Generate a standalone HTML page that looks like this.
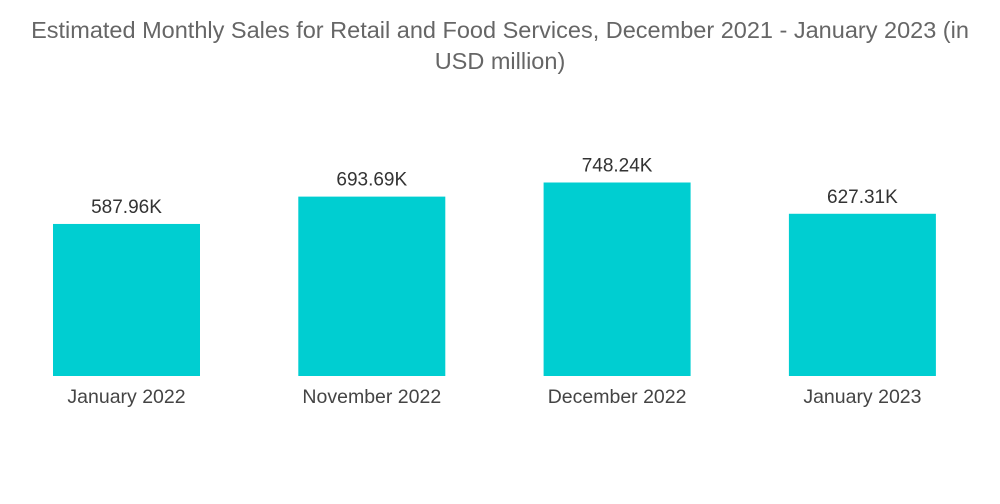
<!DOCTYPE html>
<html><head><meta charset="utf-8"><style>
body{margin:0;background:#fff;font-family:"Liberation Sans",sans-serif;}
#wrap{position:relative;width:1000px;height:504px;overflow:hidden}
#title{position:absolute;left:0;top:15px;width:1000px;text-align:center;font-size:23.5px;line-height:31px;color:#666}
</style></head><body>
<div id="wrap">
<div id="title">Estimated Monthly Sales for Retail and Food Services, December 2021 - January 2023 (in<br>USD million)</div>
<svg id="chart" width="1000" height="504" style="position:absolute;left:0;top:0"></svg>
</div>
<script>
const categories=["January 2022","November 2022","December 2022","January 2023"];
const values=[587.96,693.69,748.24,627.31];
const valueLabels=["587.96K","693.69K","748.24K","627.31K"];
const svg=document.getElementById('chart');
const NS='http://www.w3.org/2000/svg';
const baseY=376, pxPerUnit=0.2586, x0=53, step=245.3, bw=147;
function xPos(i){return x0+i*step;}
function yPos(v){return baseY-v*pxPerUnit;}
categories.forEach((c,i)=>{
  const r=document.createElementNS(NS,'rect');
  r.setAttribute('x',xPos(i));r.setAttribute('y',yPos(values[i]));
  r.setAttribute('width',bw);r.setAttribute('height',baseY-yPos(values[i]));
  r.setAttribute('fill','#00ced1');
  
  
  svg.appendChild(r);
  const t=document.createElementNS(NS,'text');
  t.setAttribute('x',xPos(i)+bw/2);t.setAttribute('y',yPos(values[i])-11);
  t.setAttribute('text-anchor','middle');t.setAttribute('font-size','19');t.setAttribute('fill','#333');
  t.textContent=valueLabels[i];
  
  
  svg.appendChild(t);
  const l=document.createElementNS(NS,'text');
  l.setAttribute('x',xPos(i)+bw/2);l.setAttribute('y',403);
  l.setAttribute('text-anchor','middle');l.setAttribute('font-size','19.5');l.setAttribute('fill','#444');
  l.textContent=c;
  
  
  svg.appendChild(l);
});
</script>
</body></html>
